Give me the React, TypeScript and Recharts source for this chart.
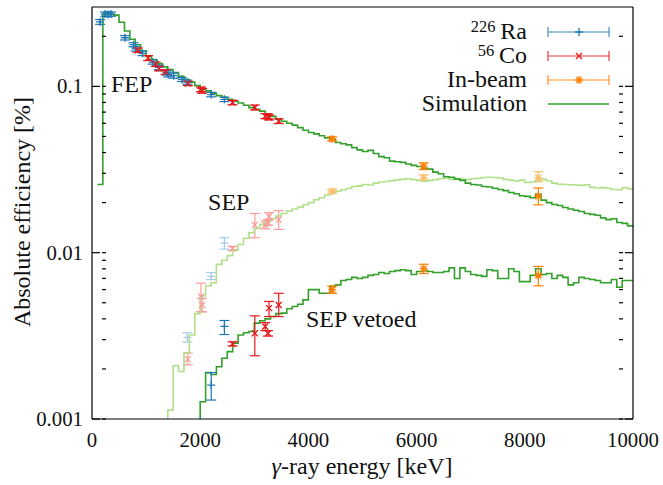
import React from "react";
import { ComposedChart, Line, Scatter, ErrorBar, XAxis, YAxis, ReferenceDot } from "recharts";

// simulated efficiency, 100 keV bins (value of each bin, from its left edge)
const BIN = 100;
const fepStart = 100;
const fepSim = [
  0.0257, 0.272, 0.272, 0.268, 0.243, 0.215, 0.192, 0.178, 0.163, 0.152,
  0.145, 0.137, 0.131, 0.126, 0.121, 0.115, 0.11, 0.106, 0.101, 0.096,
  0.094, 0.091, 0.088, 0.086, 0.0836, 0.0815, 0.0795, 0.077, 0.0745, 0.0727,
  0.071, 0.0685, 0.066, 0.0635, 0.0617, 0.06, 0.0585, 0.0565, 0.0545, 0.0528,
  0.0518, 0.0505, 0.049, 0.0478, 0.046, 0.0452, 0.0445, 0.0428, 0.0415, 0.0406,
  0.0412, 0.0395, 0.0378, 0.0372, 0.0355, 0.0352, 0.0349, 0.0341, 0.0335, 0.033,
  0.0322, 0.0318, 0.0305, 0.0298, 0.0286, 0.0284, 0.0277, 0.0272, 0.0262, 0.0257,
  0.0255, 0.025, 0.0248, 0.0244, 0.024, 0.0236, 0.023, 0.0226, 0.022, 0.0218,
  0.0214, 0.0224, 0.0207, 0.02, 0.0195, 0.0192, 0.0187, 0.0183, 0.018, 0.0177,
  0.0172, 0.017, 0.0168, 0.0162, 0.0158, 0.016, 0.0152, 0.015, 0.0145,
];
const sepStart = 1300;
const sepSim = [
  0.0004, 0.00113, 0.00209, 0.00193, 0.0025, 0.0032, 0.0043, 0.0055, 0.0063, 0.0066,
  0.0085, 0.009, 0.0096, 0.0104, 0.0112, 0.0122, 0.0132, 0.014, 0.0148, 0.0153,
  0.016, 0.0166, 0.0172, 0.0178, 0.0183, 0.0188, 0.0194, 0.02, 0.0208, 0.0214,
  0.0222, 0.023, 0.0234, 0.0239, 0.0243, 0.025, 0.0252, 0.0257, 0.0255, 0.0262,
  0.0266, 0.0268, 0.0271, 0.0274, 0.0276, 0.0278, 0.0275, 0.0272, 0.0269, 0.0272,
  0.0275, 0.0278, 0.028, 0.0276, 0.0279, 0.0277, 0.0275, 0.0278, 0.028, 0.0283,
  0.0284, 0.0283, 0.0281, 0.0276, 0.0273, 0.027, 0.0273, 0.0264, 0.0266, 0.0274,
  0.0276, 0.027, 0.0262, 0.0258, 0.0257, 0.0256, 0.0255, 0.0254, 0.0256, 0.0247,
  0.0245, 0.0246, 0.0244, 0.024, 0.0239, 0.0246, 0.0242,
];
const vetoStart = 1900;
const vetoSim = [
  0.0004, 0.00127, 0.0019, 0.00185, 0.00206, 0.00232, 0.00254, 0.00286, 0.0032, 0.0033,
  0.00336, 0.00377, 0.0039, 0.004, 0.00413, 0.0043, 0.00433, 0.0046, 0.00475, 0.0049,
  0.0052, 0.006, 0.006, 0.0057, 0.0057, 0.00627, 0.0064, 0.0068, 0.0069, 0.0071,
  0.007, 0.0071, 0.0073, 0.0074, 0.0076, 0.0075, 0.0077, 0.0078, 0.0079, 0.0078,
  0.0074, 0.0077, 0.0078, 0.0077, 0.0076, 0.0076, 0.0077, 0.0081, 0.007, 0.0081,
  0.0077, 0.0074, 0.0073, 0.0072, 0.0079, 0.0078, 0.007, 0.007, 0.008, 0.0077,
  0.0067, 0.0067, 0.0073, 0.008, 0.0074, 0.0075, 0.007, 0.0073, 0.0071, 0.0064,
  0.0066, 0.0071, 0.007, 0.0069, 0.0068, 0.0066, 0.0066, 0.0069, 0.0062, 0.0068,
  0.0068,
];

// measured peaks: [energy keV, efficiency %, lower, upper]
type Pt = [number, number, number, number];
const raFep: Pt[] = [
  [150, 0.244, 0.236, 0.252], [242, 0.272, 0.264, 0.28], [295, 0.27, 0.262, 0.278],
  [352, 0.272, 0.264, 0.28], [609, 0.196, 0.19, 0.202], [768, 0.178, 0.173, 0.183],
  [806, 0.168, 0.163, 0.173], [934, 0.158, 0.153, 0.163], [1120, 0.14, 0.136, 0.144],
  [1238, 0.13, 0.126, 0.134], [1377, 0.121, 0.117, 0.125], [1408, 0.118, 0.114, 0.122],
  [1509, 0.116, 0.112, 0.12], [1661, 0.11, 0.107, 0.113], [1764, 0.106, 0.103, 0.109],
  [2204, 0.0893, 0.0865, 0.092], [2448, 0.0836, 0.081, 0.086],
];
const coFep: Pt[] = [
  [847, 0.165, 0.16, 0.17], [1038, 0.148, 0.143, 0.153], [1175, 0.136, 0.132, 0.14],
  [1238, 0.128, 0.124, 0.132], [1360, 0.122, 0.118, 0.126], [1771, 0.104, 0.101, 0.107],
  [2015, 0.096, 0.093, 0.099], [2035, 0.094, 0.091, 0.097], [2598, 0.0799, 0.0775, 0.0823],
  [3010, 0.0747, 0.0722, 0.0772], [3202, 0.0662, 0.064, 0.0684], [3253, 0.066, 0.0638, 0.0682],
  [3273, 0.065, 0.0628, 0.0672], [3451, 0.0618, 0.0598, 0.0638],
];
const beamFep: Pt[] = [
  [4440, 0.0483, 0.047, 0.0497], [6130, 0.0331, 0.0316, 0.0347], [8250, 0.0218, 0.0194, 0.0245],
];
const raSep: Pt[] = [
  [1764, 0.0031, 0.0029, 0.0033], [2204, 0.0072, 0.0069, 0.0076], [2448, 0.0114, 0.0105, 0.0123],
];
const coSep: Pt[] = [
  [1771, 0.00229, 0.00212, 0.00249], [2015, 0.00546, 0.00443, 0.00656], [2035, 0.00485, 0.0044, 0.0053],
  [2598, 0.0106, 0.0103, 0.0109], [3010, 0.0147, 0.0123, 0.0172], [3202, 0.0147, 0.0139, 0.0155],
  [3253, 0.0152, 0.0146, 0.0158], [3273, 0.0165, 0.0157, 0.0174], [3451, 0.0158, 0.0138, 0.0179],
];
const beamSep: Pt[] = [
  [4440, 0.0234, 0.0228, 0.024], [6130, 0.0283, 0.0273, 0.0293], [8250, 0.0283, 0.0267, 0.0307],
];
const raVeto: Pt[] = [
  [2204, 0.0016, 0.0013, 0.0019], [2448, 0.0036, 0.00322, 0.00391],
];
const coVeto: Pt[] = [
  [2598, 0.00283, 0.00275, 0.00291], [3010, 0.00328, 0.0024, 0.00417], [3202, 0.0036, 0.0034, 0.0038],
  [3253, 0.00328, 0.00315, 0.0034], [3273, 0.00464, 0.00413, 0.00509], [3451, 0.00485, 0.00413, 0.0057],
];
const beamVeto: Pt[] = [
  [4440, 0.00599, 0.0057, 0.0063], [6130, 0.00801, 0.00749, 0.00852], [8250, 0.00729, 0.00632, 0.00827],
];

const xMinor = [0, 500, 1000, 1500, 2000, 2500, 3000, 3500, 4000, 4500, 5000, 5500, 6000, 6500, 7000, 7500, 8000, 8500, 9000, 9500, 10000];
const xMajor = [0, 2000, 4000, 6000, 8000, 10000];
const yMinor = [
  0.001, 0.002, 0.003, 0.004, 0.005, 0.006, 0.007, 0.008, 0.009,
  0.01, 0.02, 0.03, 0.04, 0.05, 0.06, 0.07, 0.08, 0.09, 0.1, 0.2,
];
const yMajor = [0.001, 0.01, 0.1];
const X_DOMAIN = [0, 10000];
const Y_DOMAIN = [0.001, 0.3];

const GREEN = "#33a02c";
const LGREEN = "#b2df8a";
const BLUE = "#1f78b4";
const LBLUE = "#a6cee3";
const RED = "#e31a1c";
const PINK = "#fb9a99";
const ORANGE = "#ff7f00";
const LORANGE = "#fdbf6f";
const INK = "#111";

function steps(start: number, vals: number[]) {
  const rows = vals.map((v, i) => ({ e: start + i * BIN, v }));
  rows.push({ e: start + vals.length * BIN, v: vals[vals.length - 1] });
  return rows;
}
function pts(list: Pt[]) {
  return list.map(([e, v, lo, hi]) => ({ e, v, err: [v - lo, hi - v] }));
}

type Mark = "plus" | "cross" | "star";
function markPath(kind: Mark, cx: number, cy: number) {
  const plus = `M${cx - 4},${cy}h8M${cx},${cy - 4}v8`;
  const cross = `M${cx - 3},${cy - 3}l6,6M${cx - 3},${cy + 3}l6,-6`;
  if (kind === "plus") return plus;
  if (kind === "cross") return cross;
  return plus + cross;
}
const marker = (kind: Mark, color: string) => (p: any) =>
  <path d={markPath(kind, p.cx, p.cy)} stroke={color} strokeWidth={1.3} fill="none" />;

// text drawn at the page's default size, then scaled up
function T({ x, y, s, anchor = "start", rotate = 0, children }: any) {
  return (
    <g transform={`translate(${x},${y}) rotate(${rotate}) scale(${s})`}>
      <text x={0} y={0} textAnchor={anchor} fill={INK}>{children}</text>
    </g>
  );
}
const TICK_S = 1.3;
const TEXT_S = 1.5;

function BottomLabel(p: any) {
  return <T x={p.x} y={p.y + 28} s={TICK_S} anchor="middle">{p.payload.value}</T>;
}
function LeftLabel(p: any) {
  return <T x={p.x - 9} y={p.y + 7} s={TICK_S} anchor="end">{p.payload.value}</T>;
}
// tick marks only, no label
function NoLabel() {
  return <g />;
}

const annot = (text: string) => (p: any) => <T x={p.cx} y={p.cy} s={TEXT_S}>{text}</T>;

const legendRows = [
  { sup: "226", name: "Ra", kind: "plus" as Mark, color: BLUE },
  { sup: "56", name: "Co", kind: "cross" as Mark, color: RED },
  { sup: "", name: "In-beam", kind: "star" as Mark, color: ORANGE },
];

function Overlay() {
  const tx = 527;
  return (
    <svg width={663} height={485} style={{ position: "absolute", left: 0, top: 0, pointerEvents: "none" }}>
      {legendRows.map((r, i) => {
        const y = 32 + i * 24;
        return (
          <g key={r.name}>
            <T x={tx} y={y + 7} s={TEXT_S} anchor="end">
              {r.sup && <tspan fontSize={11} dy={-5}>{r.sup}</tspan>}
              {r.sup && <tspan dy={5}>{"\u2009" + r.name}</tspan>}
              {!r.sup && r.name}
            </T>
            <path d={`M548,${y}H609M548,${y - 5}v10M609,${y - 5}v10`} stroke={r.color} strokeWidth={1.2} opacity={0.85} />
            <path d={markPath(r.kind, 579, y)} stroke={r.color} strokeWidth={1.3} />
          </g>
        );
      })}
      <T x={tx} y={111} s={TEXT_S} anchor="end">Simulation</T>
      <line x1={548} y1={104} x2={609} y2={104} stroke={GREEN} strokeWidth={1.6} />
      <T x={362} y={474} s={TEXT_S} anchor="middle">
        <tspan fontStyle="italic">γ</tspan>-ray energy [keV]
      </T>
      <T x={30} y={212} s={TEXT_S} anchor="middle" rotate={-90}>Absolute efficiency [%]</T>
    </svg>
  );
}

export default function App() {
  const ids = { xAxisId: "xlab", yAxisId: "ylab" };
  const scat = (list: Pt[], kind: Mark, color: string, key: string) => (
    <Scatter key={key} {...ids} data={pts(list)} dataKey="v" shape={marker(kind, color)} isAnimationActive={false}>
      <ErrorBar dataKey="err" direction="y" width={5} stroke={color} strokeWidth={1.2} />
    </Scatter>
  );
  const frame = { stroke: "#000", strokeWidth: 1.2 };
  const tl = { stroke: "#000", strokeWidth: 1.2 };
  // mirrored axes take no room; they draw the inward tick marks on every side
  const xTickAxis = (id: string, orientation: "top" | "bottom", ticks: number[], size: number, line: any) => (
    <XAxis xAxisId={id} orientation={orientation} mirror type="number" domain={X_DOMAIN} ticks={ticks} interval={0}
      tickSize={size} tickMargin={0} tick={NoLabel} tickLine={tl} axisLine={line} height={10} allowDataOverflow />
  );
  const yTickAxis = (id: string, orientation: "left" | "right", ticks: number[], size: number, line: any) => (
    <YAxis yAxisId={id} orientation={orientation} mirror type="number" scale="log" domain={Y_DOMAIN} ticks={ticks}
      interval={0} tickSize={size} tickMargin={0} tick={NoLabel} tickLine={tl} axisLine={line} width={10} allowDataOverflow />
  );
  return (
    <div style={{ position: "absolute", left: 0, top: 0, width: 663, height: 485, background: "#fff" }}>
      <ComposedChart width={663} height={485} margin={{ top: 7, right: 30, bottom: 0, left: 0 }}>
        <XAxis xAxisId="xlab" dataKey="e" type="number" domain={X_DOMAIN} ticks={xMajor} interval={0} tickSize={0}
          tickMargin={0} tick={BottomLabel} tickLine={false} axisLine={frame} height={66} allowDataOverflow />
        <YAxis yAxisId="ylab" dataKey="v" type="number" scale="log" domain={Y_DOMAIN} ticks={yMajor} interval={0} tickSize={0}
          tickMargin={0} tick={LeftLabel} tickLine={false} axisLine={frame} width={92} allowDataOverflow />
        {xTickAxis("bmaj", "bottom", xMajor, 8, false)}
        {xTickAxis("bmin", "bottom", xMinor, 4, false)}
        {xTickAxis("tmaj", "top", xMajor, 8, frame)}
        {xTickAxis("tmin", "top", xMinor, 4, false)}
        {yTickAxis("lmaj", "left", yMajor, 8, false)}
        {yTickAxis("lmin", "left", yMinor, 4, false)}
        {yTickAxis("rmaj", "right", yMajor, 8, frame)}
        {yTickAxis("rmin", "right", yMinor, 4, false)}

        {scat(raSep, "plus", LBLUE, "raSep")}
        {scat(coSep, "cross", PINK, "coSep")}
        {scat(beamSep, "star", LORANGE, "beamSep")}

        <Line {...ids} data={steps(sepStart, sepSim)} dataKey="v" type="stepAfter" stroke={LGREEN} strokeWidth={1.6} dot={false} isAnimationActive={false} />
        <Line {...ids} data={steps(fepStart, fepSim)} dataKey="v" type="stepAfter" stroke={GREEN} strokeWidth={1.6} dot={false} isAnimationActive={false} />
        <Line {...ids} data={steps(vetoStart, vetoSim)} dataKey="v" type="stepAfter" stroke={GREEN} strokeWidth={1.6} dot={false} isAnimationActive={false} />

        {scat(raFep, "plus", BLUE, "raFep")}
        {scat(coFep, "cross", RED, "coFep")}
        {scat(beamFep, "star", ORANGE, "beamFep")}
        {scat(raVeto, "plus", BLUE, "raVeto")}
        {scat(coVeto, "cross", RED, "coVeto")}
        {scat(beamVeto, "star", ORANGE, "beamVeto")}

        <ReferenceDot {...ids} x={350} y={0.092} r={0} shape={annot("FEP")} />
        <ReferenceDot {...ids} x={2145} y={0.0181} r={0} shape={annot("SEP")} />
        <ReferenceDot {...ids} x={3955} y={0.00358} r={0} shape={annot("SEP vetoed")} />
      </ComposedChart>
      <Overlay />
    </div>
  );
}
